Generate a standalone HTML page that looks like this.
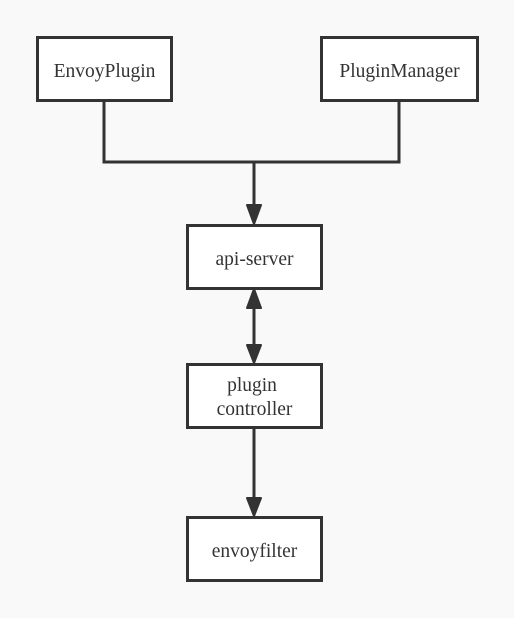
<!DOCTYPE html>
<html><head><meta charset="utf-8"><style>
html,body{margin:0;padding:0;background:#f9f9f9;}
svg{display:block}
text{font-family:"Liberation Serif",serif;font-size:19.5px;fill:#333;}
</style></head><body>
<svg width="514" height="618" viewBox="0 0 514 618" xmlns="http://www.w3.org/2000/svg">
<rect width="514" height="618" fill="#f9f9f9"/>
<g fill="#fff" stroke="#333" stroke-width="3">
<rect x="37.5" y="37.5" width="134" height="63"/>
<rect x="321.5" y="37.5" width="156" height="63"/>
<rect x="187.5" y="225.5" width="134" height="63"/>
<rect x="187.5" y="364.5" width="134" height="63"/>
<rect x="187.5" y="517.5" width="134" height="63"/>
</g>
<g fill="none" stroke="#333" stroke-width="3">
<path d="M104 101 V162 H399 V101"/>
<path d="M254 162 V208"/>
<path d="M254 306 V346"/>
<path d="M254 428 V499"/>
</g>
<g fill="#333" stroke="#333" stroke-width="2" stroke-linejoin="round">
<path d="M247 205 L254 224 L261 205 Z"/>
<path d="M247 308 L254 289 L261 308 Z"/>
<path d="M247 345 L254 363 L261 345 Z"/>
<path d="M247 498 L254 516 L261 498 Z"/>
</g>
<text x="104.5" y="77" text-anchor="middle">EnvoyPlugin</text>
<text x="399.5" y="77" text-anchor="middle">PluginManager</text>
<text x="254.5" y="265" text-anchor="middle">api-server</text>
<text x="252" y="391" text-anchor="middle">plugin</text>
<text x="254.5" y="415" text-anchor="middle">controller</text>
<text x="254.5" y="557" text-anchor="middle">envoyfilter</text>
</svg>
</body></html>
